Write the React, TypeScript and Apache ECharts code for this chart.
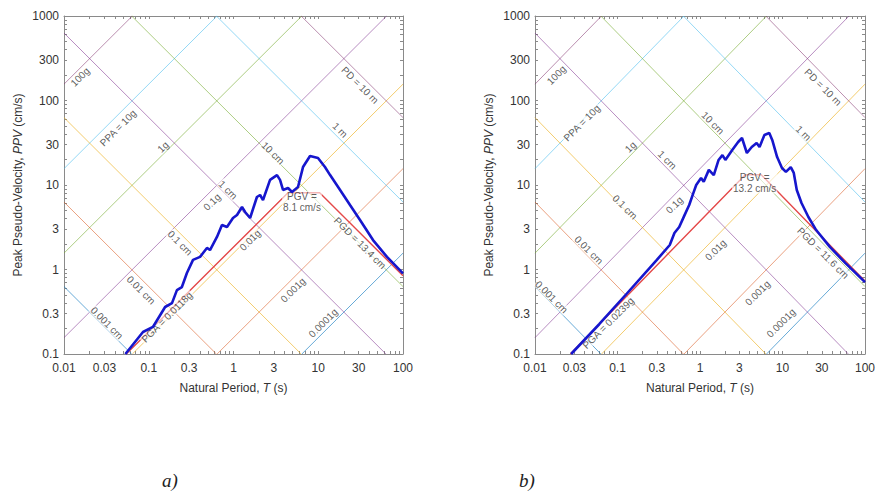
import React, { useEffect, useRef } from "react";
import * as echarts from "echarts";

// ---------- axis ticks ----------
const periodTicks = [0.01, 0.03, 0.1, 0.3, 1, 3, 10, 30, 100];
const velocityTicks = [0.1, 0.3, 1, 3, 10, 30, 100, 300, 1000];

// ---------- tripartite reference levels ----------
const accelLevels = [0.0001, 0.001, 0.01, 0.1, 1, 10, 100]; // g
const dispLevels = [0.001, 0.01, 0.1, 1, 10, 100, 1000]; // cm
const levelColors = [
  "rgba(0,114,189,0.6)",
  "rgba(217,83,25,0.55)",
  "rgba(237,177,32,0.65)",
  "rgba(126,47,142,0.55)",
  "rgba(119,172,48,0.6)",
  "rgba(77,190,238,0.6)",
  "rgba(130,50,110,0.55)",
];
const accelTexts = ["0.0001g", "0.001g", "0.01g", "0.1g", "1g", "PPA = 10g", "100g"];
const dispTexts = ["0.001 cm", "0.01 cm", "0.1 cm", "1 cm", "10 cm", "1 m", "PD = 10 m"];

// label anchor positions (period, velocity) for each panel
const accelLabelPosA = [[11.4, 0.233], [5.03, 0.571], [1.57, 2.23], [0.557, 6.29], [0.147, 28.2], [0.0434, 47.3], [0.0155, 190]];
const dispLabelPosA = [[0.0321, 0.233], [0.081, 0.571], [0.234, 2.06], [0.861, 8.73], [2.92, 23.9], [18.1, 44.7], [31.1, 152]];
const accelLabelPosB = [[9.6, 0.233], [4.99, 0.527], [1.55, 1.7], [0.49, 5.8], [0.144, 28.2], [0.037, 54.2], [0.0182, 200]];
const dispLabelPosB = [[0.0159, 0.473], [0.0448, 1.7], [0.123, 5.49], [0.4, 19.8], [1.43, 54.2], [17.9, 41.2], [31, 144]];

// ---------- ground motion peaks ----------
const pgaA = 0.0118; // g
const pgvA = 8.1; // cm/s
const pgdA = 13.4; // cm
const pgaB = 0.0239;
const pgvB = 13.2;
const pgdB = 11.6;
const peakLabelPosA = { pga: [0.164, 0.274], pgv: [6.43, 6.29], pgd: [31.1, 2.06] };
const peakLabelPosB = { pga: [0.0773, 0.233], pgv: [4.6, 10.6], pgd: [31, 1.57] };

// ---------- response spectra (period s, PSV cm/s) ----------
const spectrumA = [
  [0.053, 0.1], [0.0855, 0.182], [0.112, 0.209], [0.156, 0.36], [0.188, 0.4], [0.215, 0.57],
  [0.246, 0.62], [0.282, 0.91], [0.333, 1.3], [0.403, 1.41], [0.486, 1.8], [0.528, 1.7],
  [0.638, 2.43], [0.731, 3.36], [0.838, 3.18], [0.986, 4.07], [1.1, 4.42], [1.26, 5.49],
  [1.37, 4.79], [1.57, 4.07], [1.89, 7.21], [2.06, 7.62], [2.23, 6.64], [2.7, 11.5],
  [3.26, 13.1], [3.54, 11.5], [3.84, 8.73], [4.4, 9.21], [4.9, 8.26], [5.77, 9.47],
  [6.61, 16.3], [8.0, 22.0], [9.93, 20.9], [12.0, 16.3], [13.8, 13.1], [18.1, 8.73],
  [23.7, 5.8], [31.1, 3.85], [44.3, 2.23], [64.7, 1.41], [100, 0.9],
];
const spectrumB = [
  [0.0274, 0.1], [0.06, 0.225], [0.13, 0.52], [0.3, 1.3], [0.43, 1.95], [0.49, 2.7],
  [0.56, 3.18], [0.65, 4.4], [0.74, 5.8], [0.83, 8.0], [0.9, 10.0], [1.03, 12.1],
  [1.11, 10.9], [1.28, 15.1], [1.47, 13.1], [1.68, 19.8], [1.87, 22.6], [2.03, 19.8],
  [2.46, 25.9], [2.9, 32.3], [3.23, 36.0], [3.7, 23.9], [4.24, 28.2], [4.86, 31.4],
  [5.27, 28.2], [6.04, 39.1], [6.92, 41.2], [7.51, 34.1], [8.61, 21.4], [9.86, 15.9],
  [11.0, 14.3], [12.6, 16.3], [13.7, 13.9], [14.9, 8.73], [17.0, 6.12], [20.6, 4.18],
  [25.6, 2.93], [37.5, 1.85], [57.9, 1.19], [100, 0.71],
];

const G = 981; // cm/s^2
const TMIN = 0.01, TMAX = 100, VMIN = 0.1, VMAX = 1000;
const FONT = "'Liberation Sans', Arial, sans-serif";
const TXT = "#333";
const AXC = "#8a8a8a";

function minorTicks(lo: number, hi: number) {
  const out: number[] = [];
  for (let e = Math.round(Math.log10(lo)); e < Math.round(Math.log10(hi)); e++) {
    for (let m = 1; m < 10; m++) out.push(m * Math.pow(10, e));
  }
  out.push(hi);
  return out;
}

function accelLine(a: number) {
  const k = (a * G) / (2 * Math.PI);
  const t1 = Math.max(TMIN, VMIN / k);
  const t2 = Math.min(TMAX, VMAX / k);
  return t1 < t2 ? [[t1, k * t1], [t2, k * t2]] : null;
}
function dispLine(d: number) {
  const c = 2 * Math.PI * d;
  const t1 = Math.max(TMIN, c / VMAX);
  const t2 = Math.min(TMAX, c / VMIN);
  return t1 < t2 ? [[t1, c / t1], [t2, c / t2]] : null;
}
function envelope(pga: number, pgv: number, pgd: number) {
  const k = (pga * G) / (2 * Math.PI);
  const c = 2 * Math.PI * pgd;
  return [[VMIN / k, VMIN], [pgv / k, pgv], [c / pgv, pgv], [TMAX, c / TMAX]];
}

function panelSeries(
  idx: number,
  spectrum: number[][],
  pga: number, pgv: number, pgd: number,
  accelPos: number[][], dispPos: number[][],
  peakPos: { pga: number[]; pgv: number[]; pgd: number[] }
) {
  const xi = idx * 2, yi = idx * 2;
  const s: any[] = [];
  accelLevels.forEach((a, i) => {
    const d = accelLine(a);
    if (d) s.push({ type: "line", xAxisIndex: xi, yAxisIndex: yi, data: d, symbol: "none", silent: true, z: 1, lineStyle: { color: levelColors[i], width: 1 } });
  });
  dispLevels.forEach((dd, i) => {
    const d = dispLine(dd);
    if (d) s.push({ type: "line", xAxisIndex: xi, yAxisIndex: yi, data: d, symbol: "none", silent: true, z: 1, lineStyle: { color: levelColors[i], width: 1 } });
  });
  s.push({ type: "line", xAxisIndex: xi, yAxisIndex: yi, data: envelope(pga, pgv, pgd), symbol: "none", silent: true, z: 2, lineStyle: { color: "rgb(228,72,72)", width: 1.4 } });
  s.push({ type: "line", xAxisIndex: xi, yAxisIndex: yi, data: spectrum, symbol: "none", silent: true, z: 4, lineStyle: { color: "rgb(22,22,205)", width: 2.6 } });

  const lbl: any[] = [];
  accelLevels.forEach((a, i) => lbl.push({ name: accelTexts[i], value: accelPos[i], label: { rotate: 45 } }));
  dispLevels.forEach((d, i) => lbl.push({ name: dispTexts[i], value: dispPos[i], label: { rotate: -45 } }));
  lbl.push({ name: `PGA = ${pga}g`, value: peakPos.pga, label: { rotate: 45 } });
  lbl.push({ name: `PGD = ${pgd} cm`, value: peakPos.pgd, label: { rotate: -45 } });
  lbl.push({ name: `PGV =\n${pgv} cm/s`, value: peakPos.pgv, label: { rotate: 0, align: "center", lineHeight: 11 } });
  s.push({
    type: "scatter", xAxisIndex: xi, yAxisIndex: yi, data: lbl, symbolSize: 1, silent: true, z: 3,
    itemStyle: { color: "rgba(0,0,0,0)" },
    label: {
      show: true, position: "inside", formatter: "{b}", fontSize: 10, fontFamily: FONT, color: "#333",
      backgroundColor: "rgba(255,255,255,0.75)", padding: [0, 1],
    },
  });
  return s;
}

function xAxes(gridIndex: number) {
  const common = {
    type: "log", logBase: 10, gridIndex, min: TMIN, max: TMAX,
    axisLine: { show: true, onZero: false, lineStyle: { color: AXC, width: 1 } },
    axisTick: { show: true, inside: true, length: 3, customValues: minorTicks(TMIN, TMAX), lineStyle: { color: AXC } },
    splitLine: { show: false }, minorTick: { show: false },
  };
  return [
    {
      ...common, position: "bottom",
      name: "Natural Period, {i|T} (s)", nameLocation: "middle", nameGap: 28,
      nameTextStyle: { fontSize: 12, fontFamily: FONT, color: TXT, rich: { i: { fontStyle: "italic", fontSize: 12, fontFamily: FONT, color: TXT } } },
      axisLabel: { customValues: periodTicks, formatter: (v: number) => String(v), fontSize: 12, fontFamily: FONT, color: TXT, margin: 8 },
    },
    { ...common, position: "top", axisLabel: { show: false } },
  ];
}
function yAxes(gridIndex: number) {
  const common = {
    type: "log", logBase: 10, gridIndex, min: VMIN, max: VMAX,
    axisLine: { show: true, onZero: false, lineStyle: { color: AXC, width: 1 } },
    axisTick: { show: true, inside: true, length: 3, customValues: minorTicks(VMIN, VMAX), lineStyle: { color: AXC } },
    splitLine: { show: false }, minorTick: { show: false },
  };
  return [
    {
      ...common, position: "left",
      name: "Peak Pseudo-Velocity, {i|PPV} (cm/s)", nameLocation: "middle", nameGap: 40, nameRotate: 90,
      nameTextStyle: { fontSize: 12, fontFamily: FONT, color: TXT, rich: { i: { fontStyle: "italic", fontSize: 12, fontFamily: FONT, color: TXT } } },
      axisLabel: { customValues: velocityTicks, formatter: (v: number) => String(v), fontSize: 12, fontFamily: FONT, color: TXT, margin: 5 },
    },
    { ...common, position: "right", axisLabel: { show: false } },
  ];
}

export default function App() {
  const ref = useRef<HTMLDivElement>(null);
  useEffect(() => {
    if (!ref.current) return;
    const chart = echarts.init(ref.current, null, { renderer: "svg" });
    chart.setOption({
      animation: false,
      backgroundColor: "#ffffff",
      grid: [
        { left: 64, top: 16, width: 339, height: 338 },
        { left: 535, top: 16, width: 338, height: 338 },
      ],
      xAxis: [...xAxes(0), ...xAxes(1)],
      yAxis: [...yAxes(0), ...yAxes(1)],
      series: [
        ...panelSeries(0, spectrumA, pgaA, pgvA, pgdA, accelLabelPosA, dispLabelPosA, peakLabelPosA),
        ...panelSeries(1, spectrumB, pgaB, pgvB, pgdB, accelLabelPosB, dispLabelPosB, peakLabelPosB),
      ],
      graphic: [
        { type: "text", left: 162, top: 471, style: { text: "a)", font: "italic 19px 'Liberation Serif', serif", fill: "#222" } },
        { type: "text", left: 519, top: 471, style: { text: "b)", font: "italic 19px 'Liberation Serif', serif", fill: "#222" } },
      ],
    });
    return () => chart.dispose();
  }, []);
  return <div ref={ref} style={{ position: "fixed", left: 0, top: 0, width: 878, height: 495 }} />;
}
